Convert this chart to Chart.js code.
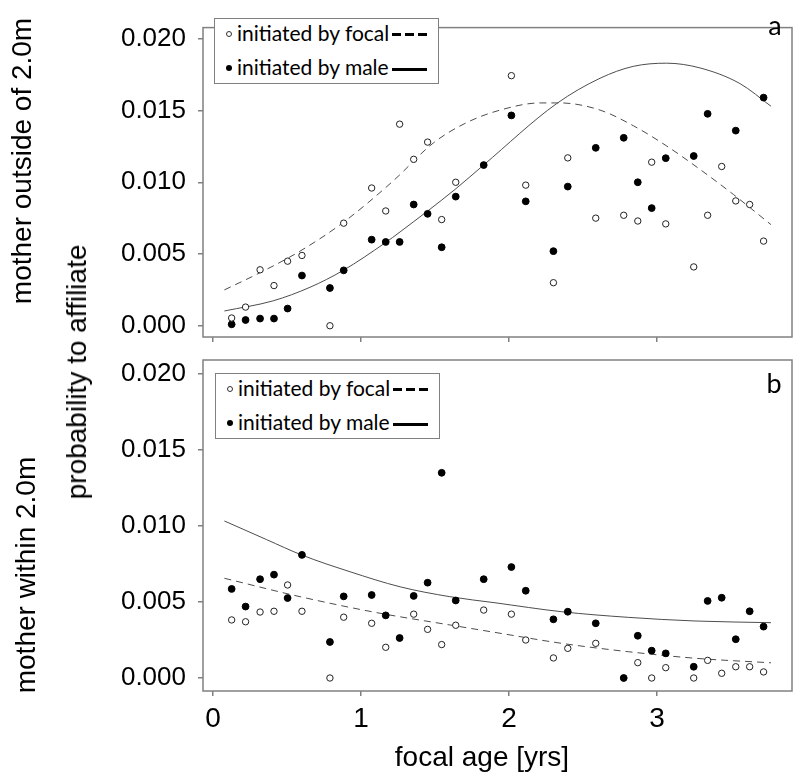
<!DOCTYPE html>
<html>
<head>
<meta charset="utf-8">
<script src="https://cdn.jsdelivr.net/npm/chart.js@4.4.1/dist/chart.umd.min.js"></script>
<style>
  html, body { margin: 0; padding: 0; background: #fff; }
  #wrap { position: relative; width: 800px; height: 778px; overflow: hidden; font-family: "Liberation Sans", Arial, sans-serif; }
  #wrap canvas { position: absolute; left: 0; top: 0; }
  .rot { position: absolute; white-space: nowrap; font-size: 28px; color: #000; transform: translate(-50%, -50%) rotate(-90deg); }
  .title { position: absolute; white-space: nowrap; font-size: 28px; color: #000; transform: translate(-50%, -50%); }
  .leg { position: absolute; width: 223px; height: 64px; border: 1px solid #808080; background: #fff; font-family: Lato, "Open Sans", sans-serif; font-size: 21px; }
  .leg .txt { position: absolute; left: 22px; line-height: 24px; }
  .leg .open { position: absolute; left: 11px; width: 4px; height: 4px; border: 1px solid #333; border-radius: 50%; }
  .leg .dot { position: absolute; left: 11px; width: 6px; height: 6px; background: #000; border-radius: 50%; }
  .leg .dash { position: absolute; left: 177px; width: 35px; height: 3px; background: repeating-linear-gradient(to right, #000 0 9px, transparent 9px 13px); }
  .leg .solid { position: absolute; left: 177px; width: 35px; height: 3px; background: #000; }
  .panel-id { position: absolute; font-family: Lato, "Open Sans", sans-serif; font-size: 27px; transform: translate(-50%, -50%); }
</style>
</head>
<body>
<div id="wrap">
  <canvas id="chartTop" width="800" height="778"></canvas>
  <canvas id="chartBottom" width="800" height="778"></canvas>

  <div class="rot" style="left:22px; top:161px;">mother outside of 2.0m</div>
  <div class="rot" style="left:26px; top:575px;">mother within 2.0m</div>
  <div class="rot" style="left:77px; top:372px;">probability to affiliate</div>
  <div class="title" style="left:482px; top:757px;">focal age [yrs]</div>

  <div class="leg" style="left:214px; top:18px;">
    <span class="open" style="top:12px;"></span><span class="txt" style="top:2px;">initiated by focal</span><span class="dash" style="top:14px;"></span>
    <span class="dot" style="top:46px;"></span><span class="txt" style="top:36px;">initiated by male</span><span class="solid" style="top:49px;"></span>
  </div>
  <div class="leg" style="left:215px; top:373px;">
    <span class="open" style="top:12px;"></span><span class="txt" style="top:2px;">initiated by focal</span><span class="dash" style="top:14px;"></span>
    <span class="dot" style="top:46px;"></span><span class="txt" style="top:36px;">initiated by male</span><span class="solid" style="top:49px;"></span>
  </div>
  <div class="panel-id" style="left:775px; top:24px;">a</div>
  <div class="panel-id" style="left:774px; top:382px;">b</div>
</div>

<script>
// focal age of every observed point (yrs)
const ages = [0.126, 0.22, 0.318, 0.412, 0.504, 0.601, 0.79, 0.883, 1.072, 1.167, 1.261, 1.356, 1.45, 1.545, 1.64, 1.829,
              2.016, 2.113, 2.30, 2.397, 2.586, 2.775, 2.87, 2.964, 3.059, 3.248, 3.342, 3.437, 3.532, 3.626, 3.72];

// panel a: mother outside of 2.0m
const outsideFocal = [0.00054, 0.0013, 0.0039, 0.0028, 0.0045, 0.0049, 0.0, 0.00715, 0.0096, 0.0080, 0.01405, 0.0116, 0.0128, 0.0074, 0.0100, null,
                      0.01743, 0.0098, 0.0030, 0.0117, 0.0075, 0.0077, 0.0073, 0.0114, 0.0071, 0.0041, 0.0077, 0.0111, 0.0087, 0.00845, 0.0059];
const outsideMale = [0.0001, 0.0004, 0.0005, 0.0005, 0.0012, 0.0035, 0.00263, 0.00386, 0.0060, 0.00584, 0.00584, 0.00845, 0.0078, 0.00547, 0.0090, 0.0112,
                     0.01466, 0.00867, 0.0052, 0.0097, 0.0124, 0.0131, 0.0100, 0.0082, 0.01168, 0.01183, 0.01477, null, 0.0136, null, 0.0159];

// panel b: mother within 2.0m
const withinFocal = [0.00382, 0.0037, 0.00434, 0.00439, 0.00612, 0.00439, 0.0, 0.0040, 0.0036, 0.00202, null, 0.0042, 0.0032, 0.0022, 0.00347, 0.00447,
                     0.0042, 0.0025, 0.00132, 0.00195, 0.00228, null, 0.00101, 0.0, 0.00068, 0.0, 0.00116, 0.00031, 0.00074, 0.00074, 0.0004];
const withinMale = [0.00586, 0.0047, 0.0065, 0.0068, 0.00526, 0.0081, 0.00237, 0.00537, 0.00546, 0.00412, 0.00263, 0.0054, 0.00627, 0.0135, 0.0051, 0.0065,
                    0.0073, 0.00574, 0.00386, 0.00436, 0.0036, 0.0, 0.00278, 0.0018, 0.00162, 0.00074, 0.00507, 0.00528, 0.00255, 0.00439, 0.00338];

// fitted curves
const fitOutsideFocalX = [0.077, 0.318, 0.588, 0.88, 1.218, 1.49, 1.714, 1.94, 2.21, 2.345, 2.615, 2.84, 3.065, 3.29, 3.516, 3.77];
const fitOutsideFocalY = [0.0025, 0.0037, 0.0052, 0.0072, 0.0101, 0.01275, 0.01416, 0.01503, 0.01553, 0.01553, 0.01503, 0.01394, 0.01253, 0.0109, 0.00915, 0.00705];
const fitOutsideMaleX = [0.077, 0.407, 0.655, 0.88, 1.162, 1.264, 1.635, 1.826, 2.32, 2.615, 2.84, 3.065, 3.29, 3.56, 3.77];
const fitOutsideMaleY = [0.00103, 0.00174, 0.00268, 0.00386, 0.00577, 0.00654, 0.0095, 0.01118, 0.01547, 0.01725, 0.01808, 0.0183, 0.01797, 0.01688, 0.01530];
const fitWithinFocalX = [0.077, 0.588, 1.095, 1.6, 1.905, 2.356, 2.806, 3.257, 3.77];
const fitWithinFocalY = [0.00656, 0.00535, 0.00432, 0.00349, 0.00300, 0.00228, 0.00173, 0.0013, 0.00100];
const fitWithinMaleX = [0.077, 0.363, 0.6, 0.926, 1.264, 1.6, 1.905, 2.356, 2.806, 3.257, 3.77];
const fitWithinMaleY = [0.01033, 0.0091, 0.00809, 0.00699, 0.006, 0.00535, 0.00495, 0.00436, 0.00399, 0.00375, 0.00364];

const xTicks = [0, 1, 2, 3];
const yTicks = [0, 0.005, 0.010, 0.015, 0.020];

(function() {
    'use strict';

    const frameColor = '#808080';
    const curveColor = '#4d4d4d';

    // draws the full box round the plot area
    const framePlugin = {
        id: 'frame',
        afterDraw(chart) {
            const { ctx, chartArea: a } = chart;
            ctx.save();
            ctx.strokeStyle = frameColor;
            ctx.lineWidth = 1.5;
            ctx.strokeRect(a.left, a.top, a.right - a.left, a.bottom - a.top);
            ctx.restore();
        }
    };

    function points(xs, ys) {
        const out = [];
        xs.forEach((x, i) => { if (ys[i] !== null) out.push({ x: x, y: ys[i] }); });
        return out;
    }

    function datasets(focal, male, fx1, fy1, fx2, fy2) {
        return [
            { data: points(ages, focal), pointStyle: 'circle', pointRadius: 3.2, pointBackgroundColor: '#fff',
              pointBorderColor: '#222', pointBorderWidth: 1, showLine: false, order: 0 },
            { data: points(ages, male), pointStyle: 'circle', pointRadius: 3.4, pointBackgroundColor: '#000',
              pointBorderColor: '#000', pointBorderWidth: 1, showLine: false, order: 0 },
            { data: points(fx1, fy1), showLine: true, pointRadius: 0, borderColor: curveColor, borderWidth: 1,
              borderDash: [7, 5], cubicInterpolationMode: 'monotone', order: 1 },
            { data: points(fx2, fy2), showLine: true, pointRadius: 0, borderColor: curveColor, borderWidth: 1,
              cubicInterpolationMode: 'monotone', order: 1 }
        ];
    }

    function makeChart(id, ds, opt) {
        new Chart(document.getElementById(id), {
            type: 'scatter',
            data: { datasets: ds },
            options: {
                responsive: false,
                animation: false,
                devicePixelRatio: 1,
                layout: { padding: { left: 0, right: 8, top: opt.top, bottom: opt.bottom } },
                plugins: { legend: { display: false }, tooltip: { enabled: false } },
                scales: {
                    x: {
                        type: 'linear', min: -0.0676, max: 3.912,
                        afterBuildTicks: s => { s.ticks = xTicks.map(v => ({ value: v })); },
                        afterFit: s => { s.height = opt.xHeight; },
                        grid: { drawOnChartArea: false, drawTicks: true, tickLength: 5, color: frameColor, lineWidth: 1.5 },
                        border: { display: false },
                        ticks: { display: opt.xLabels, color: '#000', padding: 6,
                                 font: { family: 'Liberation Sans', size: 28 }, maxRotation: 0 }
                    },
                    y: {
                        type: 'linear', min: opt.yMin, max: opt.yMax,
                        afterBuildTicks: s => { s.ticks = yTicks.map(v => ({ value: v })); },
                        afterFit: s => { s.width = 203; },
                        grid: { drawOnChartArea: false, drawTicks: true, tickLength: 5, color: frameColor, lineWidth: 1.5 },
                        border: { display: false },
                        ticks: { color: '#000', padding: 12, font: { family: 'Liberation Sans', size: 26 },
                                 callback: v => v.toFixed(3) }
                    }
                }
            },
            plugins: [framePlugin]
        });
    }

    document.addEventListener('DOMContentLoaded', () => {
        makeChart('chartTop',
            datasets(outsideFocal, outsideMale, fitOutsideFocalX, fitOutsideFocalY, fitOutsideMaleX, fitOutsideMaleY),
            { top: 7, bottom: 435, xHeight: 6, xLabels: false, yMin: -0.000784, yMax: 0.02078 });
        makeChart('chartBottom',
            datasets(withinFocal, withinMale, fitWithinFocalX, fitWithinFocalY, fitWithinMaleX, fitWithinMaleY),
            { top: 360, bottom: 47, xHeight: 40, xLabels: true, yMin: -0.000855, yMax: 0.02092 });
    });
})();
</script>
</body>
</html>
